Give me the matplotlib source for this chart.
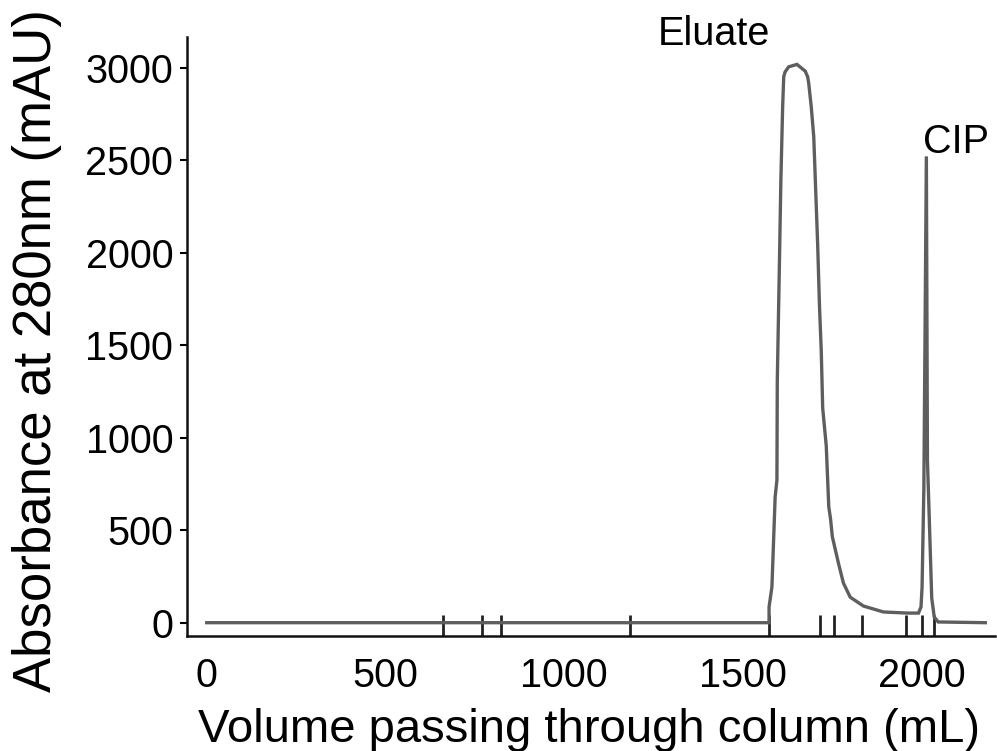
import matplotlib
matplotlib.use("Agg")
import matplotlib.pyplot as plt

plt.rcParams['font.family'] = ['Liberation Sans', 'DejaVu Sans']

# UV trace of the column run: volume (mL) vs absorbance at 280 nm (mAU)
volume_ml = [0, 1573, 1573, 1581, 1585, 1590, 1595, 1596, 1602, 1606, 1611,
             1614, 1618, 1628, 1651, 1674, 1681, 1684, 1691, 1698, 1709,
             1714, 1719, 1723, 1733, 1740, 1745, 1750, 1767, 1781, 1800,
             1837, 1893, 1960, 1991, 1998, 2001, 2006, 2013, 2016, 2023,
             2028, 2035, 2046, 2178]
absorbance_mau = [0, 0, 85, 193, 409, 679, 771, 1305, 1943, 2389, 2788,
                  2950, 2977, 3004, 3017, 2981, 2950, 2914, 2788, 2626, 2041,
                  1714, 1468, 1160, 955, 627, 560, 465, 322, 214, 138,
                  90, 58, 52, 52, 85, 193, 728, 2520, 879, 447,
                  133, 31, 4, 0]

# Fraction collector marks (mL)
fraction_marks_ml = [662, 770, 823, 1185, 1574, 1716, 1754, 1834, 1957, 2001, 2035]

x_ticks = [0, 500, 1000, 1500, 2000]
y_ticks = [0, 500, 1000, 1500, 2000, 2500, 3000]

peak_labels = ["Eluate", "CIP"]
peak_label_pos = [(1418, 3121), (2004, 2538)]
peak_label_ha = ["center", "left"]

X_LIM = (-55, 2205)
Y_LIM = (-72, 3165)
MARK_TOP = 42

fig = plt.figure(figsize=(9.97, 7.51), dpi=100)
ax = fig.add_axes([0.1876, 0.1531, 0.8104, 0.7976])

ax.plot(volume_ml, absorbance_mau, color='#5e5e5e', lw=2.4,
        solid_joinstyle='miter', zorder=3)
ax.vlines(fraction_marks_ml, Y_LIM[0], MARK_TOP, color='#222222', lw=2, zorder=2)

for txt, (px, py), ha in zip(peak_labels, peak_label_pos, peak_label_ha):
    ax.text(px, py, txt, fontsize=28.5, ha=ha, va='baseline', color='black',
            clip_on=False)

ax.set_xlim(*X_LIM)
ax.set_ylim(*Y_LIM)
ax.set_xticks(x_ticks)
ax.set_yticks(y_ticks)
ax.tick_params(axis='x', length=0, pad=15, labelsize=28.5)
ax.tick_params(axis='y', length=5, width=1.5, direction='out', pad=5, labelsize=28.5)

for side in ('top', 'right'):
    ax.spines[side].set_visible(False)
for side in ('left', 'bottom'):
    ax.spines[side].set_linewidth(1.8)
    ax.spines[side].set_color('#111111')

ax.set_xlabel("Volume passing through column (mL)", fontsize=34)
ax.set_ylabel("Absorbance at 280nm (mAU)", fontsize=38)
ax.xaxis.set_label_coords(0.497, -0.12)
ax.yaxis.set_label_coords(-0.155, 0.476)

fig.savefig("out.png", dpi=100)
